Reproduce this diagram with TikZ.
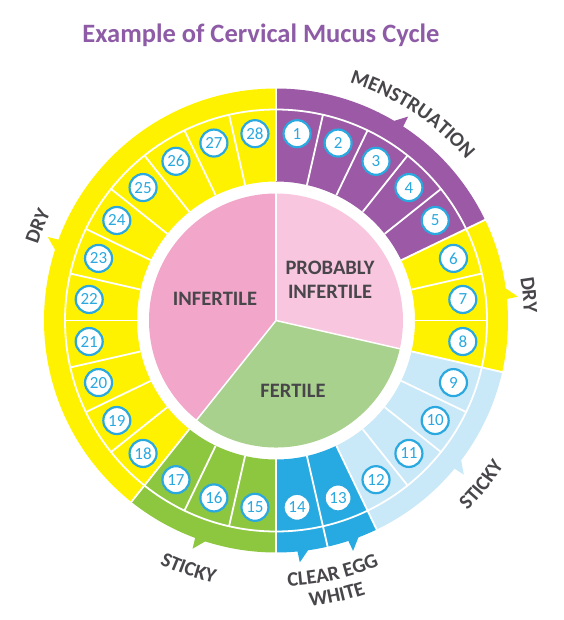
\documentclass[tikz,border=0pt]{standalone}
\usepackage{fontspec}
\setmainfont{Carlito}
\usetikzlibrary{decorations.text}

\definecolor{mensPurple}{HTML}{9B59A6}
\definecolor{dryYellow}{HTML}{FFF200}
\definecolor{stickyBlue}{HTML}{C9E8F8}
\definecolor{eggBlue}{HTML}{27AAE1}
\definecolor{stickyGreen}{HTML}{8DC63F}
\definecolor{pinkDark}{HTML}{F2A6CA}
\definecolor{pinkLight}{HTML}{F8C6DE}
\definecolor{pieGreen}{HTML}{A9D18E}
\definecolor{numBlue}{HTML}{2AA8E0}
\definecolor{labelGray}{HTML}{48464A}
\definecolor{titlePurple}{HTML}{8E5BA6}

\newcommand{\bandfont}{\fontsize{20.5}{20.5}\selectfont\bfseries\color{labelGray}}

\tikzset{
  daynum/.style={circle, draw=numBlue, line width=2.2pt, fill=white, minimum size=27pt,
    inner sep=0pt, text=numBlue, font=\fontsize{17}{17}\selectfont},
  pielabel/.style={text=labelGray, font=\bfseries\fontsize{20.5}{24}\selectfont, align=center},
  sep/.style={white, line width=1.8pt},
  bandtext/.style={decorate, decoration={text along path, text align=center, text={#1}}}
}

\begin{document}
\begin{tikzpicture}[x=1pt, y=1pt]
  \useasboundingbox (-276,-299.5) rectangle (287,320.5);
  \pgfmathsetmacro{\dd}{360/28}

  \node[anchor=base, text=titlePurple, font=\bfseries\fontsize{26.5}{26.5}\selectfont] (title) at (-15,277.5) {Example of Cervical Mucus Cycle};

  % ring + outer band
  \foreach \a/\b/\c in {0/5/mensPurple, 5/8/dryYellow, 8/12/stickyBlue, 12/14/eggBlue, 14/17/stickyGreen, 17/28/dryYellow}
    \fill[\c] ({90-\a*\dd}:139) arc[start angle={90-\a*\dd}, end angle={90-\b*\dd}, radius=139]
      -- ({90-\b*\dd}:232) arc[start angle={90-\b*\dd}, end angle={90-\a*\dd}, radius=232] -- cycle;

  % pointers
  \foreach \t/\c in {57.86/mensPurple, 6.43/dryYellow, -38.57/stickyBlue, -70.71/eggBlue, -83.57/eggBlue, -109.29/stickyGreen, 160.71/dryYellow}
    \fill[\c] ({\t+2.2}:229) -- ({\t-0.8}:243) -- ({\t-1.2}:229) -- cycle;

  \foreach \k in {0,...,27}
    \draw[sep] ({90-\k*\dd}:139) -- ({90-\k*\dd}:211);
  \foreach \k in {0,5,8,12,13,14,17}
    \draw[sep] ({90-\k*\dd}:211) -- ({90-\k*\dd}:233);
  \draw[sep] (0,0) circle[radius=211];

  % pie
  \fill[pinkLight] (0,0) -- (90:127) arc[start angle=90, end angle={90-8*\dd}, radius=127] -- cycle;
  \fill[pieGreen] (0,0) -- ({90-8*\dd}:127) arc[start angle={90-8*\dd}, end angle={90-17*\dd}, radius=127] -- cycle;
  \fill[pinkDark] (0,0) -- ({90-17*\dd}:127) arc[start angle={90-17*\dd}, end angle=-270, radius=127] -- cycle;
  \foreach \k in {0,8,17}
    \draw[white, line width=1.5pt] (0,0) -- ({90-\k*\dd}:128);

  \node[pielabel] (infertile) at (-61,21.5) {INFERTILE};
  \node[pielabel] (probably) at (54,40.5) {PROBABLY\\INFERTILE};
  \node[pielabel] (fertile) at (17,-70.5) {FERTILE};

  \foreach \i in {1,...,28}
    \node[daynum] (d\i) at ({90-(\i-0.5)*\dd}:188) {\i};

  % band labels
  \path[bandtext={|\bandfont|MENSTRUATION}] (96.5:249) arc[start angle=96.5, end angle=16.5, radius=249];
  \path[bandtext={|\bandfont|DRY}] (35.8:248) arc[start angle=35.8, end angle=-24.2, radius=248];
  \path[bandtext={|\bandfont|DRY}] (188.4:250) arc[start angle=188.4, end angle=128.4, radius=250];
  \path[bandtext={|\bandfont|STICKY}] (-68.7:270) arc[start angle=-68.7, end angle=-8.7, radius=270];
  \path[bandtext={|\bandfont|STICKY}] (-139.4:270) arc[start angle=-139.4, end angle=-79.4, radius=270];
  \path[bandtext={|\bandfont|CLEAR EGG}] (-107.3:266) arc[start angle=-107.3, end angle=-47.3, radius=266];
  \path[bandtext={|\bandfont|WHITE}] (-107.5:288) arc[start angle=-107.5, end angle=-47.5, radius=288];
\end{tikzpicture}
\end{document}
